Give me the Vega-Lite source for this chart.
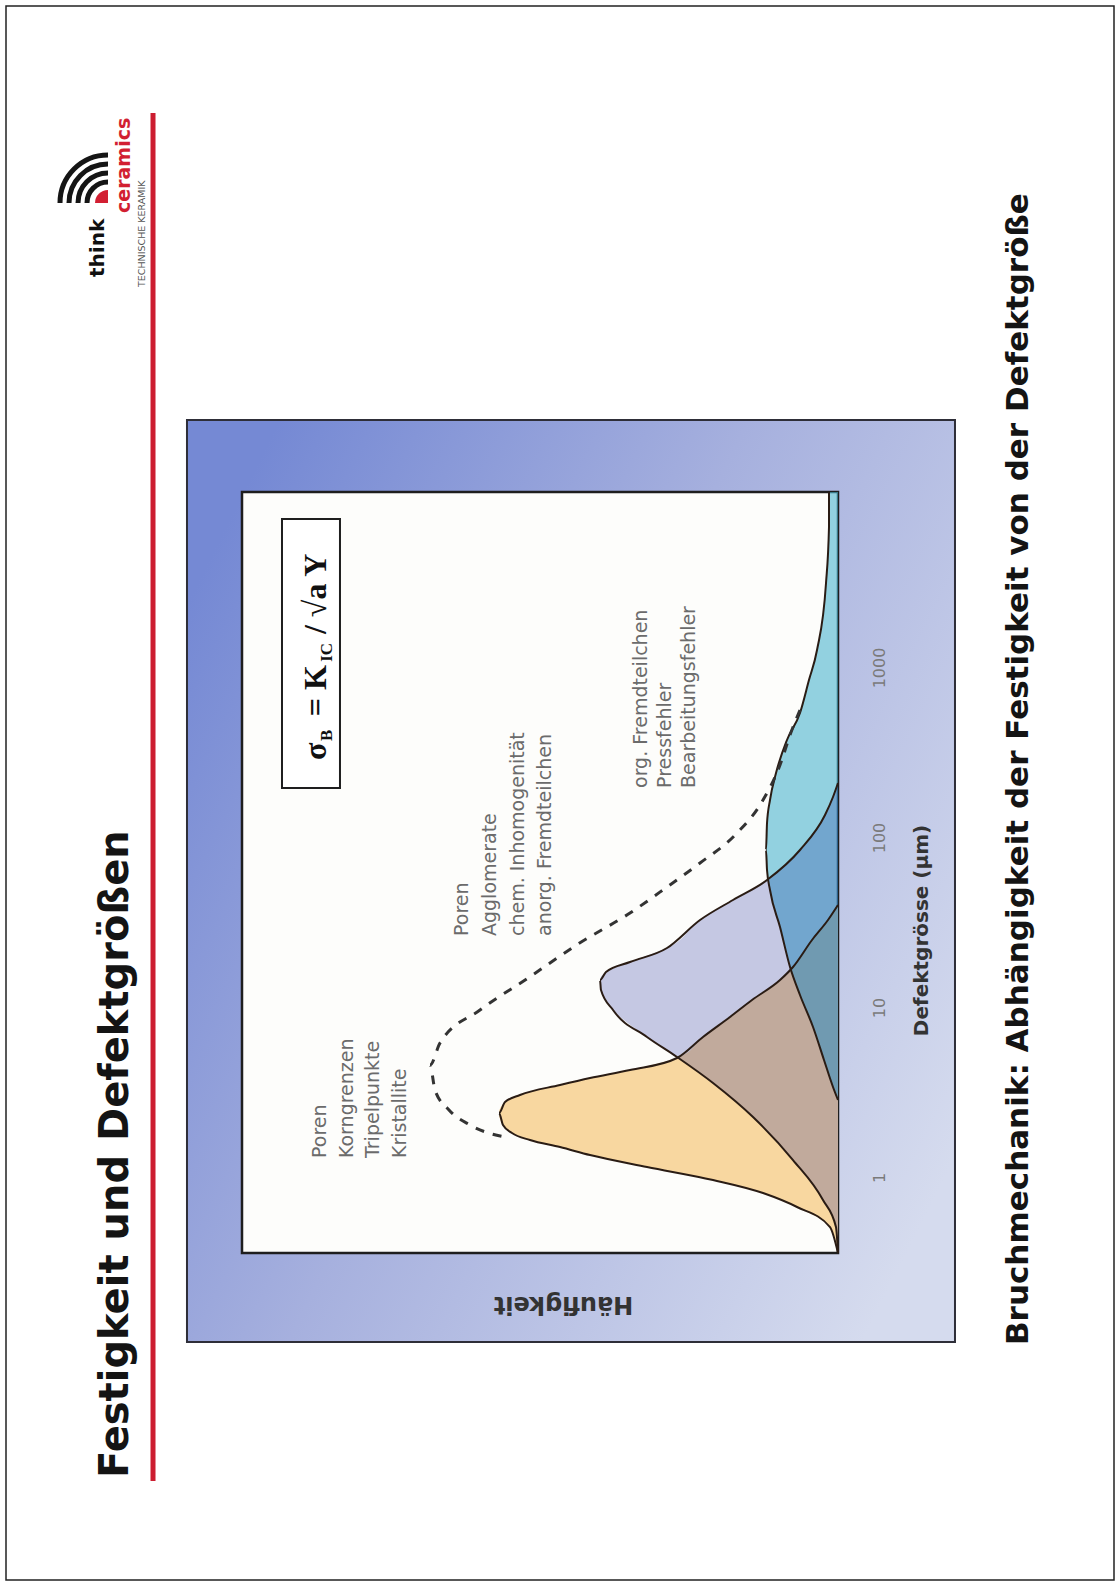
{
  "$schema": "https://vega.github.io/schema/vega-lite/v6.json",
  "width": 596,
  "height": 761,
  "autosize": {"type": "none"},
  "padding": {"left": 242, "top": 492, "right": 282, "bottom": 333},
  "background": "#ffffff",
  "config": {"view": {"stroke": null}, "font": "DejaVu Sans"},
  "datasets": {
    "pageBoxes": [
      {"part": "page", "x_mm": 1.125, "x2_mm": 208.875, "y_mm": 1.124, "y2_mm": 295.88},
      {"part": "frame", "x_mm": 35.06, "x2_mm": 179.06, "y_mm": 78.65, "y2_mm": 251.31}
    ],
    "rules": [{"x_mm": 28.69, "y_mm": 21.16, "y2_mm": 277.34}],
    "slideText": [
      {"role": "title", "text": "Festigkeit und Defektgrößen", "x_mm": 24.0, "y_mm": 276.78},
      {"role": "caption", "text": "Bruchmechanik: Abhängigkeit der Festigkeit von der Defektgröße", "x_mm": 192.75, "y_mm": 251.87},
      {"role": "think", "text": "think", "x_mm": 19.5, "y_mm": 51.87},
      {"role": "ceramics", "text": "ceramics", "x_mm": 24.375, "y_mm": 39.89},
      {"role": "tagline", "text": "TECHNISCHE KERAMIK", "x_mm": 27.19, "y_mm": 53.74}
    ],
    "logo": [
      {"x_mm": 20.25, "y_mm": 38.01, "ring": 1},
      {"x_mm": 20.25, "y_mm": 38.01, "ring": 2},
      {"x_mm": 20.25, "y_mm": 38.01, "ring": 3},
      {"x_mm": 20.25, "y_mm": 38.01, "ring": 4}
    ],
    "curves": [
      {"pop": "gefuege", "a": 0.3597, "f": 0},
      {"pop": "gefuege", "a": 0.5114, "f": 1.34},
      {"pop": "gefuege", "a": 0.6707, "f": 6.88},
      {"pop": "gefuege", "a": 0.8105, "f": 12.58},
      {"pop": "gefuege", "a": 0.9667, "f": 20.97},
      {"pop": "gefuege", "a": 1.153, "f": 32.05},
      {"pop": "gefuege", "a": 1.356, "f": 41.61},
      {"pop": "gefuege", "a": 1.511, "f": 46.64},
      {"pop": "gefuege", "a": 1.662, "f": 51.68},
      {"pop": "gefuege", "a": 1.827, "f": 54.7},
      {"pop": "gefuege", "a": 2.036, "f": 56.21},
      {"pop": "gefuege", "a": 2.395, "f": 56.88},
      {"pop": "gefuege", "a": 2.78, "f": 55.87},
      {"pop": "gefuege", "a": 3.057, "f": 53.36},
      {"pop": "gefuege", "a": 3.501, "f": 46.64},
      {"pop": "gefuege", "a": 3.848, "f": 41.61},
      {"pop": "gefuege", "a": 4.29, "f": 34.9},
      {"pop": "gefuege", "a": 5.046, "f": 27.01},
      {"pop": "gefuege", "a": 6.707, "f": 22.65},
      {"pop": "gefuege", "a": 8.794, "f": 18.12},
      {"pop": "gefuege", "a": 11.07, "f": 14.43},
      {"pop": "gefuege", "a": 14.51, "f": 9.73},
      {"pop": "gefuege", "a": 17.31, "f": 7.55},
      {"pop": "gefuege", "a": 24.96, "f": 4.36},
      {"pop": "gefuege", "a": 32.71, "f": 1.68},
      {"pop": "gefuege", "a": 40.1, "f": 0},

      {"pop": "agglomerate", "a": 0.3597, "f": 0},
      {"pop": "agglomerate", "a": 0.5114, "f": 0.34},
      {"pop": "agglomerate", "a": 0.7374, "f": 2.52},
      {"pop": "agglomerate", "a": 1.267, "f": 7.55},
      {"pop": "agglomerate", "a": 2.269, "f": 14.26},
      {"pop": "agglomerate", "a": 3.597, "f": 20.97},
      {"pop": "agglomerate", "a": 5.115, "f": 27.01},
      {"pop": "agglomerate", "a": 6.707, "f": 32.05},
      {"pop": "agglomerate", "a": 9.667, "f": 37.75},
      {"pop": "agglomerate", "a": 12.67, "f": 39.77},
      {"pop": "agglomerate", "a": 14.51, "f": 39.93},
      {"pop": "agglomerate", "a": 16.18, "f": 38.93},
      {"pop": "agglomerate", "a": 18.52, "f": 34.9},
      {"pop": "agglomerate", "a": 22.39, "f": 28.69},
      {"pop": "agglomerate", "a": 32.71, "f": 23.15},
      {"pop": "agglomerate", "a": 42.9, "f": 17.62},
      {"pop": "agglomerate", "a": 56.23, "f": 11.91},
      {"pop": "agglomerate", "a": 84.43, "f": 6.38},
      {"pop": "agglomerate", "a": 135.6, "f": 2.18},
      {"pop": "agglomerate", "a": 173.1, "f": 0.84},
      {"pop": "agglomerate", "a": 209.2, "f": 0},

      {"pop": "verarbeitung", "a": 2.857, "f": 0},
      {"pop": "verarbeitung", "a": 3.407, "f": 0.84},
      {"pop": "verarbeitung", "a": 4.912, "f": 2.35},
      {"pop": "verarbeitung", "a": 7.679, "f": 4.19},
      {"pop": "verarbeitung", "a": 11.85, "f": 6.38},
      {"pop": "verarbeitung", "a": 17.31, "f": 8.05},
      {"pop": "verarbeitung", "a": 29.75, "f": 9.73},
      {"pop": "verarbeitung", "a": 49.12, "f": 11.41},
      {"pop": "verarbeitung", "a": 64.39, "f": 11.91},
      {"pop": "verarbeitung", "a": 84.43, "f": 12.08},
      {"pop": "verarbeitung", "a": 121.7, "f": 11.91},
      {"pop": "verarbeitung", "a": 166.2, "f": 11.41},
      {"pop": "verarbeitung", "a": 239.5, "f": 10.4},
      {"pop": "verarbeitung", "a": 374.6, "f": 8.56},
      {"pop": "verarbeitung", "a": 540.1, "f": 6.38},
      {"pop": "verarbeitung", "a": 844.3, "f": 4.87},
      {"pop": "verarbeitung", "a": 1267, "f": 3.52},
      {"pop": "verarbeitung", "a": 3142, "f": 2.01},
      {"pop": "verarbeitung", "a": 6707, "f": 1.51},
      {"pop": "verarbeitung", "a": 10775, "f": 1.51}
    ],
    "envelope": [
      {"a": 1.707, "f": 55.03},
      {"a": 2.036, "f": 61.74},
      {"a": 2.495, "f": 65.27},
      {"a": 3.271, "f": 67.62},
      {"a": 4.59, "f": 68.46},
      {"a": 6.182, "f": 66.78},
      {"a": 9.667, "f": 60.07},
      {"a": 14.91, "f": 52.01},
      {"a": 23.63, "f": 43.62},
      {"a": 35.97, "f": 34.9},
      {"a": 51.15, "f": 28.69},
      {"a": 70.79, "f": 23.15},
      {"a": 103.4, "f": 17.28},
      {"a": 166.2, "f": 12.58},
      {"a": 267.1, "f": 9.73},
      {"a": 400.8, "f": 8.05},
      {"a": 562.3, "f": 6.38}
    ],
    "notes": [
      {"text": "Poren", "a": 1.302, "f": 86.91},
      {"text": "Korngrenzen", "a": 1.302, "f": 82.38},
      {"text": "Tripelpunkte", "a": 1.302, "f": 78.02},
      {"text": "Kristallite", "a": 1.302, "f": 73.49},
      {"text": "Poren", "a": 26.34, "f": 63.09},
      {"text": "Agglomerate", "a": 26.34, "f": 58.39},
      {"text": "chem. Inhomogenität", "a": 26.34, "f": 53.69},
      {"text": "anorg. Fremdteilchen", "a": 26.34, "f": 49.16},
      {"text": "org. Fremdteilchen", "a": 195.6, "f": 33.05},
      {"text": "Pressfehler", "a": 195.6, "f": 29.03},
      {"text": "Bearbeitungsfehler", "a": 195.6, "f": 25.0}
    ],
    "formula": [
      {"kind": "main", "text": "σ", "a": 285.7, "f": 87.58},
      {"kind": "sub", "text": "B", "a": 370.0, "f": 85.74},
      {"kind": "main", "text": "= K", "a": 517.0, "f": 87.58},
      {"kind": "sub", "text": "IC", "a": 1080, "f": 85.74},
      {"kind": "main", "text": "/ √a Y", "a": 1574, "f": 87.58}
    ],
    "boxes": [
      {"part": "panel", "f": 0, "f2": 100, "a": 0.3597, "a2": 10775},
      {"part": "formula", "f": 83.56, "f2": 93.29, "a": 195.6, "a2": 7472}
    ]
  },
  "layer": [
    {
      "description": "Slide furniture laid out on the A4 page in millimetres",
      "encoding": {
        "x": {"field": "x_mm", "type": "quantitative", "axis": null,
              "scale": {"type": "linear", "domain": [45.375, 157.125], "nice": false, "zero": false}},
        "y": {"field": "y_mm", "type": "quantitative", "axis": null,
              "scale": {"type": "linear", "domain": [92.134, 234.641], "nice": false, "zero": false, "reverse": true}}
      },
      "layer": [
        {
          "data": {"name": "pageBoxes"},
          "transform": [{"filter": "datum.part == 'page'"}],
          "mark": {"type": "rect", "fill": null, "stroke": "#222222", "strokeWidth": 1.5},
          "encoding": {"x2": {"field": "x2_mm"}, "y2": {"field": "y2_mm"}}
        },
        {
          "data": {"name": "pageBoxes"},
          "transform": [{"filter": "datum.part == 'frame'"}],
          "mark": {
            "type": "rect", "stroke": "#2e2e38", "strokeWidth": 2,
            "fill": {"gradient": "linear", "x1": 0, "y1": 0.2, "x2": 1, "y2": 0.8,
                     "stops": [{"offset": 0, "color": "#7589d4"}, {"offset": 0.45, "color": "#a6b0de"}, {"offset": 1, "color": "#d5dbee"}]}
          },
          "encoding": {"x2": {"field": "x2_mm"}, "y2": {"field": "y2_mm"}}
        },
        {
          "data": {"name": "rules"},
          "mark": {"type": "rule", "color": "#cc1d30", "strokeWidth": 5},
          "encoding": {"y2": {"field": "y2_mm"}}
        },
        {
          "data": {"name": "slideText"},
          "transform": [{"filter": "datum.role == 'title'"}],
          "mark": {"type": "text", "angle": 270, "align": "left", "baseline": "alphabetic",
                   "font": "DejaVu Sans", "fontWeight": "bold", "fontSize": 40, "color": "#141414"},
          "encoding": {"text": {"field": "text"}}
        },
        {
          "data": {"name": "slideText"},
          "transform": [{"filter": "datum.role == 'caption'"}],
          "mark": {"type": "text", "angle": 270, "align": "left", "baseline": "alphabetic",
                   "font": "DejaVu Sans", "fontWeight": "bold", "fontSize": 31, "color": "#141414"},
          "encoding": {"text": {"field": "text"}}
        },
        {
          "data": {"name": "slideText"},
          "transform": [{"filter": "datum.role == 'think'"}],
          "mark": {"type": "text", "angle": 270, "align": "left", "baseline": "alphabetic",
                   "font": "DejaVu Sans", "fontWeight": "bold", "fontSize": 20, "color": "#111111"},
          "encoding": {"text": {"field": "text"}}
        },
        {
          "data": {"name": "slideText"},
          "transform": [{"filter": "datum.role == 'ceramics'"}],
          "mark": {"type": "text", "angle": 270, "align": "left", "baseline": "alphabetic",
                   "font": "DejaVu Sans", "fontWeight": "bold", "fontSize": 19, "color": "#d21f32"},
          "encoding": {"text": {"field": "text"}}
        },
        {
          "data": {"name": "slideText"},
          "transform": [{"filter": "datum.role == 'tagline'"}],
          "mark": {"type": "text", "angle": 270, "align": "left", "baseline": "alphabetic",
                   "font": "DejaVu Sans", "fontSize": 9.5, "color": "#555555"},
          "encoding": {"text": {"field": "text"}}
        },
        {
          "data": {"name": "logo"},
          "mark": {"type": "arc", "theta": -1.5708, "theta2": 0, "fill": null,
                   "stroke": "#151515", "strokeWidth": 5, "strokeCap": "butt"},
          "encoding": {
            "radius": {"field": "ring", "type": "quantitative", "legend": null,
                       "scale": {"type": "linear", "domain": [1, 4], "range": [21, 48], "zero": false}},
            "radius2": {"field": "ring"}
          }
        },
        {
          "data": {"name": "logo"},
          "transform": [{"filter": "datum.ring == 1"}],
          "mark": {"type": "arc", "theta": -1.5708, "theta2": 0, "radius": 13, "radius2": 0, "fill": "#d21f32"}
        }
      ]
    },
    {
      "description": "Defect size distributions: frequency against defect size (log), drawn turned by 90 degrees",
      "encoding": {
        "x": {"field": "f", "type": "quantitative",
              "scale": {"domain": [0, 100], "reverse": true, "nice": false, "zero": false},
              "axis": {"orient": "bottom", "zindex": 2, "title": "Häufigkeit", "labels": false, "ticks": false, "domain": false, "grid": false,
                       "titleAngle": 180, "titleX": 321, "titleY": 50, "titleAlign": "center", "titleBaseline": "middle",
                       "titleFont": "DejaVu Sans", "titleFontSize": 24, "titleFontWeight": "bold", "titleColor": "#333333"}},
        "y": {"field": "a", "type": "quantitative",
              "scale": {"type": "log", "domain": [0.3597, 10775], "nice": false},
              "axis": {"orient": "right", "zindex": 2, "title": "Defektgrösse (µm)", "values": [1, 10, 100, 1000], "format": "d",
                       "ticks": false, "domain": false, "grid": false,
                       "labelAngle": 270, "labelAlign": "center", "labelBaseline": "middle", "labelPadding": 41,
                       "labelFlush": false, "labelOverlap": false,
                       "labelFont": "DejaVu Sans", "labelFontSize": 16, "labelColor": "#7a7a7a",
                       "titleAngle": 270, "titleX": 83, "titleY": 438, "titleAlign": "center", "titleBaseline": "middle",
                       "titleFont": "DejaVu Sans", "titleFontSize": 20, "titleFontWeight": "bold", "titleColor": "#333333"}}
      },
      "layer": [
        {
          "data": {"name": "boxes"},
          "transform": [{"filter": "datum.part == 'panel'"}],
          "mark": {"type": "rect", "fill": "#fdfdfb", "stroke": "#1e1e1e", "strokeWidth": 2.5},
          "encoding": {"x2": {"field": "f2"}, "y2": {"field": "a2"}}
        },
        {
          "data": {"name": "curves"},
          "transform": [{"filter": "datum.pop == 'gefuege'"}],
          "mark": {"type": "area", "orient": "horizontal", "interpolate": "monotone", "fill": "#f8d7a0"}
        },
        {
          "data": {"name": "curves"},
          "transform": [{"filter": "datum.pop == 'verarbeitung'"}],
          "mark": {"type": "area", "orient": "horizontal", "interpolate": "monotone", "fill": "#4bb4cf", "fillOpacity": 0.6}
        },
        {
          "data": {"name": "curves"},
          "transform": [{"filter": "datum.pop == 'agglomerate'"}],
          "mark": {"type": "area", "orient": "horizontal", "interpolate": "monotone", "fill": "#000e8d", "fillOpacity": 0.22}
        },
        {
          "data": {"name": "curves"},
          "mark": {"type": "line", "orient": "horizontal", "interpolate": "monotone", "color": "#2a1c14", "strokeWidth": 2},
          "encoding": {"detail": {"field": "pop"}}
        },
        {
          "data": {"name": "envelope"},
          "mark": {"type": "line", "orient": "horizontal", "interpolate": "monotone", "color": "#333333",
                   "strokeWidth": 3, "strokeDash": [9, 9]}
        },
        {
          "data": {"name": "notes"},
          "mark": {"type": "text", "angle": 270, "align": "left", "baseline": "middle",
                   "font": "DejaVu Sans", "fontSize": 19, "color": "#6b6b6b"},
          "encoding": {"text": {"field": "text"}}
        },
        {
          "data": {"name": "boxes"},
          "transform": [{"filter": "datum.part == 'formula'"}],
          "mark": {"type": "rect", "fill": "#ffffff", "stroke": "#1e1e1e", "strokeWidth": 2},
          "encoding": {"x2": {"field": "f2"}, "y2": {"field": "a2"}}
        },
        {
          "data": {"name": "formula"},
          "transform": [{"filter": "datum.kind == 'main'"}],
          "mark": {"type": "text", "angle": 270, "align": "left", "baseline": "middle",
                   "font": "Liberation Serif", "fontWeight": "bold", "fontSize": 32, "color": "#111111"},
          "encoding": {"text": {"field": "text"}}
        },
        {
          "data": {"name": "formula"},
          "transform": [{"filter": "datum.kind == 'sub'"}],
          "mark": {"type": "text", "angle": 270, "align": "left", "baseline": "middle",
                   "font": "Liberation Serif", "fontWeight": "bold", "fontSize": 17, "color": "#111111"},
          "encoding": {"text": {"field": "text"}}
        }
      ]
    }
  ],
  "resolve": {"scale": {"x": "independent", "y": "independent"}}
}
